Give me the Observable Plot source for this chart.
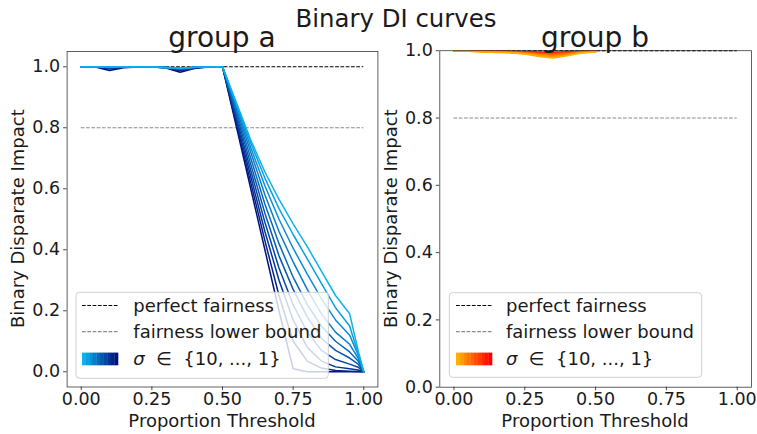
<!DOCTYPE html>
<html><head><meta charset="utf-8">
<script src="https://cdn.jsdelivr.net/npm/d3@7"></script>
<script src="https://cdn.jsdelivr.net/npm/@observablehq/plot@0.6"></script>
<style>
body{margin:0;background:#fff;}
#chart{position:relative;width:757px;height:434px;overflow:hidden;font-family:"DejaVu Sans",sans-serif;}
#chart svg{position:absolute;top:0;}
</style></head><body><div id="chart"></div>
<script>
// ---------------- data ----------------
const sigmas = [10, 9, 8, 7, 6, 5, 4, 3, 2, 1];
const xTicks = [0, 0.25, 0.5, 0.75, 1.0];
const yTicks = [0, 0.2, 0.4, 0.6, 0.8, 1.0];
const perfectFairness = 1.0;
const fairnessLowerBound = 0.8;

// group a: proportion thresholds
const xA = [0, 0.05, 0.1, 0.15, 0.2, 0.25, 0.3, 0.35, 0.4, 0.45, 0.48, 0.5, 0.55, 0.6, 0.65, 0.7, 0.75, 0.8, 0.85, 0.9, 0.95, 0.98, 1.0];
const a10 = [1.0, 1.0, 0.999, 1.0, 1.0, 0.999, 0.997, 0.995, 0.998, 1.0, 1.0, 1.0, 0.88, 0.76, 0.655, 0.565, 0.485, 0.41, 0.33, 0.25, 0.19, 0.07, 0.0];
const a9  = [1.0, 1.0, 0.999, 1.0, 1.0, 0.999, 0.997, 0.995, 0.998, 1.0, 1.0, 1.0, 0.875, 0.75, 0.635, 0.535, 0.45, 0.37, 0.29, 0.21, 0.15, 0.06, 0.0];
const a8  = [1.0, 1.0, 0.998, 1.0, 1.0, 1.0, 0.998, 0.994, 0.998, 1.0, 1.0, 1.0, 0.87, 0.735, 0.61, 0.50, 0.405, 0.32, 0.24, 0.17, 0.12, 0.055, 0.0];
const a7  = [1.0, 1.0, 0.998, 1.0, 1.0, 1.0, 0.998, 0.994, 0.998, 1.0, 1.0, 1.0, 0.86, 0.72, 0.58, 0.46, 0.36, 0.27, 0.19, 0.13, 0.09, 0.045, 0.0];
const a6  = [1.0, 1.0, 0.998, 1.0, 1.0, 1.0, 0.998, 0.993, 0.998, 1.0, 1.0, 1.0, 0.85, 0.70, 0.55, 0.42, 0.31, 0.22, 0.15, 0.10, 0.065, 0.035, 0.0];
const a5  = [1.0, 1.0, 0.997, 1.0, 1.0, 1.0, 0.998, 0.993, 0.997, 1.0, 1.0, 1.0, 0.84, 0.68, 0.52, 0.38, 0.27, 0.18, 0.11, 0.07, 0.045, 0.025, 0.0];
const a4  = [1.0, 1.0, 0.997, 1.0, 1.0, 1.0, 0.998, 0.992, 0.998, 1.0, 1.0, 1.0, 0.83, 0.66, 0.49, 0.34, 0.22, 0.13, 0.07, 0.04, 0.025, 0.015, 0.0];
const a3  = [1.0, 1.0, 0.996, 1.0, 1.0, 0.999, 0.998, 0.99, 0.997, 1.0, 1.0, 1.0, 0.82, 0.64, 0.46, 0.30, 0.17, 0.08, 0.035, 0.016, 0.01, 0.006, 0.0];
const a2  = [1.0, 1.0, 0.993, 0.999, 1.0, 0.999, 0.997, 0.987, 0.996, 1.0, 1.0, 1.0, 0.81, 0.62, 0.43, 0.25, 0.10, 0.035, 0.012, 0.004, 0.002, 0.001, 0.0];
const a1  = [1.0, 0.999, 0.988, 0.997, 0.999, 1.0, 0.996, 0.982, 0.994, 0.999, 1.0, 1.0, 0.80, 0.60, 0.40, 0.20, 0.01, 0.0, 0.0, 0.0, 0.0, 0.0, 0.0];

// group b: proportion thresholds
const xB = [0, 0.05, 0.1, 0.15, 0.2, 0.25, 0.3, 0.35, 0.4, 0.45, 0.5];
const b10 = [1.0, 0.998, 0.997, 0.996, 0.994, 0.99, 0.983, 0.978, 0.985, 0.993, 0.996];
const b9  = [1.0, 0.998, 0.997, 0.995, 0.994, 0.991, 0.985, 0.981, 0.987, 0.994, 0.997];
const b8  = [1.0, 0.999, 0.997, 0.996, 0.995, 0.992, 0.987, 0.984, 0.989, 0.995, 0.997];
const b7  = [1.0, 0.999, 0.998, 0.996, 0.995, 0.993, 0.989, 0.986, 0.991, 0.995, 0.998];
const b6  = [1.0, 0.999, 0.998, 0.997, 0.996, 0.994, 0.99, 0.988, 0.992, 0.996, 0.998];
const b5  = [1.0, 0.999, 0.998, 0.997, 0.996, 0.995, 0.992, 0.99, 0.993, 0.997, 0.998];
const b4  = [1.0, 0.999, 0.999, 0.998, 0.997, 0.996, 0.993, 0.991, 0.994, 0.997, 0.999];
const b3  = [1.0, 1.0, 0.999, 0.998, 0.997, 0.996, 0.994, 0.993, 0.995, 0.998, 0.999];
const b2  = [1.0, 1.0, 0.999, 0.998, 0.998, 0.997, 0.995, 0.994, 0.996, 0.998, 0.999];
const b1  = [1.0, 1.0, 0.999, 0.999, 0.998, 0.997, 0.996, 0.995, 0.997, 0.998, 0.999];

const titleText = "Binary DI curves";
const panelTitles = ["group a", "group b"];
const xLabel = "Proportion Threshold";
const yLabel = "Binary Disparate Impact";
const legendLabels = ["perfect fairness", "fairness lower bound"];

// ---------------- build ----------------
const seriesA = [a10, a9, a8, a7, a6, a5, a4, a3, a2, a1];
const seriesB = [b10, b9, b8, b7, b6, b5, b4, b3, b2, b1];
// draw sigma = 1 first so the light (sigma = 10) curves end up on top
function rows(xs, series) {
  const out = [];
  for (let i = series.length - 1; i >= 0; --i) series[i].forEach((y, j) => out.push({sigma: sigmas[i], x: xs[j], y}));
  return out;
}
const rowsA = rows(xA, seriesA);
const rowsB = rows(xB, seriesB);

const blueI = d3.interpolateRgb("#0ab2ee", "#00107e");
const orangeI = d3.interpolateRgb("#ffb000", "#ff0000");
const blues = sigmas.map((s, i) => blueI(i / 9));
const oranges = sigmas.map((s, i) => orangeI(i / 9));

const FONT = "DejaVu Sans, sans-serif";
const TXT = "#1a1a1a";

function panel({rowsData, colors, width, ml, mr, mt, mb, ydomain}) {
  return Plot.plot({
    width, height: 434,
    marginLeft: ml, marginRight: mr, marginTop: mt, marginBottom: mb,
    style: {fontFamily: FONT, fontSize: "17.5px", color: TXT, background: "transparent", overflow: "visible"},
    x: {domain: [-0.05, 1.05]},
    y: {domain: ydomain},
    color: {type: "ordinal", domain: sigmas, range: colors},
    marks: [
      Plot.ruleY([perfectFairness], {x1: 0, x2: 1, stroke: "#000", strokeWidth: 1.2, strokeDasharray: "3.7,1.6"}),
      Plot.ruleY([fairnessLowerBound], {x1: 0, x2: 1, stroke: "#8c8c8c", strokeWidth: 1.2, strokeDasharray: "3.7,1.6"}),
      Plot.line(rowsData, {x: "x", y: "y", z: "sigma", stroke: "sigma", strokeWidth: 1.5, clip: true}),
      Plot.frame({stroke: "#3a3a3a", strokeWidth: 0.8}),
      Plot.axisX({ticks: xTicks, tickFormat: d3.format(".2f"), tickSize: 3.5, tickPadding: 2, label: null, strokeWidth: 0.8}),
      Plot.axisY({ticks: yTicks, tickFormat: d3.format(".1f"), tickSize: 3.5, tickPadding: 3.5, label: null, strokeWidth: 0.8})
    ]
  });
}

const chart = document.getElementById("chart");
const left = panel({rowsData: rowsA, colors: blues, width: 380, ml: 66.6, mr: 2.6, mt: 51, mb: 47.5, ydomain: [-0.05, 1.05]});
left.style.left = "0px";
chart.appendChild(left);
const right = panel({rowsData: rowsB, colors: oranges, width: 377, ml: 59.3, mr: 6.1, mt: 50.2, mb: 47.3, ydomain: [0, 1]});
right.style.left = "380px";
chart.appendChild(right);

// overlay: titles, axis labels, legends
const ov = d3.select(chart).append("svg")
  .attr("width", 757).attr("height", 434)
  .style("left", "0px").style("pointer-events", "none")
  .attr("font-family", FONT).attr("fill", TXT);

ov.append("text").attr("x", 396).attr("y", 26.5).attr("text-anchor", "middle")
  .attr("font-size", 24.4).text(titleText);

const panels = [
  {cx: 222, title: panelTitles[0], ylx: 24, leg: {x0: 76, y0: 292.3, x1: 328.3, y1: 378.3, sx: 82, tx: 133.3}, colors: blues},
  {cx: 595, title: panelTitles[1], ylx: 397, leg: {x0: 449.3, y0: 292.7, x1: 701.7, y1: 377.3, sx: 456, tx: 506}, colors: oranges}
];
panels.forEach(p => {
  ov.append("text").attr("x", p.cx).attr("y", 46.5).attr("text-anchor", "middle")
    .attr("font-size", 28).text(p.title);
  ov.append("text").attr("x", p.cx).attr("y", 426.5).attr("text-anchor", "middle")
    .attr("font-size", 18).text(xLabel);
  ov.append("text").attr("transform", `translate(${p.ylx},218.7) rotate(-90)`)
    .attr("text-anchor", "middle").attr("font-size", 18).text(yLabel);
  const L = p.leg;
  ov.append("rect").attr("x", L.x0).attr("y", L.y0).attr("width", L.x1 - L.x0).attr("height", L.y1 - L.y0)
    .attr("rx", 3.5).attr("fill", "white").attr("fill-opacity", 0.8).attr("stroke", "#d0d0d0").attr("stroke-width", 1);
  const rowsY = [305.5, 331.7, 359];
  ov.append("line").attr("x1", L.sx).attr("x2", L.sx + 36).attr("y1", rowsY[0]).attr("y2", rowsY[0])
    .attr("stroke", "#000").attr("stroke-width", 1.2).attr("stroke-dasharray", "3.7,1.6");
  ov.append("line").attr("x1", L.sx).attr("x2", L.sx + 36).attr("y1", rowsY[1]).attr("y2", rowsY[1])
    .attr("stroke", "#8c8c8c").attr("stroke-width", 1.2).attr("stroke-dasharray", "3.7,1.6");
  const cw = 36 / p.colors.length;
  p.colors.forEach((c, i) => {
    ov.append("rect").attr("x", L.sx + i * cw).attr("y", rowsY[2] - 6.4).attr("width", cw + 0.3).attr("height", 12.7).attr("fill", c);
  });
  ov.append("text").attr("x", L.tx).attr("y", rowsY[0] + 6).attr("font-size", 18).text(legendLabels[0]);
  ov.append("text").attr("x", L.tx).attr("y", rowsY[1] + 6).attr("font-size", 18).text(legendLabels[1]);
  const t = ov.append("text").attr("x", L.tx).attr("y", rowsY[2] + 6).attr("font-size", 18).attr("xml:space", "preserve");
  t.append("tspan").attr("font-style", "italic").text("σ");
  t.append("tspan").text("  ∈  {10, ..., 1}");
});
</script></body></html>
